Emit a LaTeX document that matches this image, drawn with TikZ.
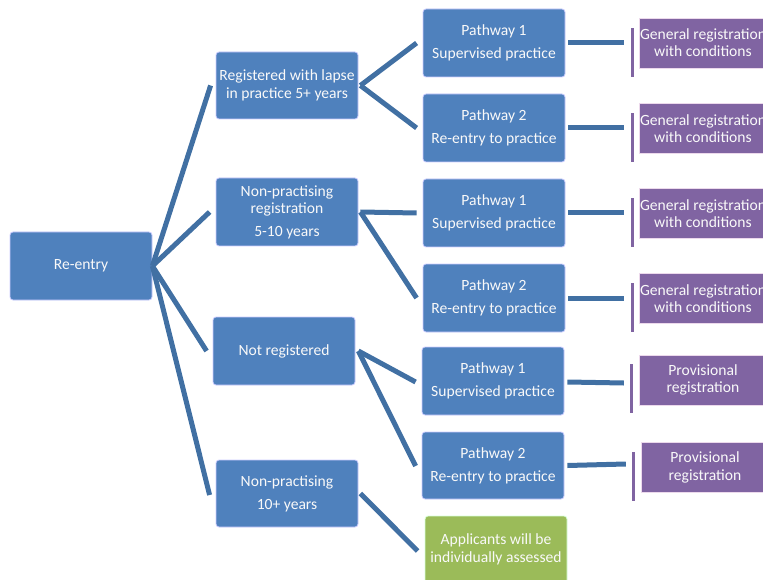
\documentclass[tikz,border=0pt]{standalone}
\usepackage{fontspec}
\setmainfont{Carlito}
\begin{document}
\begin{tikzpicture}[x=1pt,y=-1pt,
  bbox/.style={draw=white!80!blue, line width=0.8pt, fill=boxblue, rounded corners=3pt,
    minimum width=142pt, minimum height=68pt, inner sep=0pt, align=center,
    text=white!95!gray, font=\fontsize{15.6}{17.6}\selectfont},
  pbox/.style={draw=white!85!violet, line width=0.8pt, fill=boxpurple,
    minimum width=128pt, minimum height=50pt, inner sep=0pt, align=center,
    text=white!95!gray, font=\fontsize{15.6}{17.2}\selectfont},
  gbox/.style={bbox, fill=boxgreen, draw=white!85!green},
  bar/.style={fill=boxpurple, draw=none, minimum width=3pt, minimum height=49pt, inner sep=0pt},
  conn/.style={draw=lineblue, line width=5pt},
]
\definecolor{boxblue}{HTML}{4F81BD}
\definecolor{lineblue}{HTML}{4170A3}
\definecolor{boxpurple}{HTML}{8064A2}
\definecolor{boxgreen}{HTML}{9BBB59}
\useasboundingbox (0,0) rectangle (763,580);
\clip (0,0) rectangle (763,580);

% level 0
\node[bbox] (reentry) at (81,266) {Re-entry};
% level 1
\node[bbox, minimum height=67pt] (reg) at (287,85.5) {Registered with lapse\\in practice 5+ years};
\node[bbox] (npr) at (287,212) {Non-practising\\registration\\[5pt]5-10 years};
\node[bbox] (notreg) at (284,351) {Not registered};
\node[bbox, minimum height=67pt] (np10) at (287,493.5) {Non-practising\\[5.5pt]10+ years};
% level 2
\node[bbox] (p1a) at (494,43) {Pathway 1\\[5.5pt]Supervised practice};
\node[bbox] (p2a) at (494,128) {Pathway 2\\[5.5pt]Re-entry to practice};
\node[bbox] (p1b) at (494,213) {Pathway 1\\[5.5pt]Supervised practice};
\node[bbox] (p2b) at (494,298) {Pathway 2\\[5.5pt]Re-entry to practice};
\node[bbox] (p1c) at (493,381) {Pathway 1\\[5.5pt]Supervised practice};
\node[bbox, minimum height=67pt] (p2c) at (493,465.5) {Pathway 2\\[5.5pt]Re-entry to practice};
\node[gbox, minimum height=67pt] (assess) at (496,549.5) {Applicants will be\\individually assessed};
% level 3
\node[pbox] (g1) at (703,43) {General registration\\with conditions};
\node[pbox] (g2) at (703,128.5) {General registration\\with conditions};
\node[pbox] (g3) at (703,213.5) {General registration\\with conditions};
\node[pbox] (g4) at (703,298.5) {General registration\\with conditions};
\node[pbox] (prov1) at (703,380) {Provisional\\registration};
\node[pbox] (prov2) at (705,467.5) {Provisional\\registration};
% bars
\node[bar] (b1) at (632,52.5) {};
\node[bar] (b2) at (632,137.5) {};
\node[bar] (b3) at (632,222.5) {};
\node[bar] (b4) at (632,307.5) {};
\node[bar] (b5) at (631,388.5) {};
\node[bar] (b6) at (633,476.5) {};

% connectors level 0 -> 1
\draw[conn] (reentry.east) -- ([xshift=-5pt]reg.west);
\draw[conn] (reentry.east) -- ([xshift=-6pt]npr.west);
\draw[conn] (reentry.east) -- ([xshift=-6pt]notreg.west);
\draw[conn] (reentry.east) -- ([xshift=-6pt,yshift=-1.5pt]np10.west);
% level 1 -> 2
\draw[conn] ([xshift=2pt]reg.east) -- ([xshift=-6pt]p1a.west);
\draw[conn] ([xshift=2pt]reg.east) -- ([xshift=-6pt]p2a.west);
\draw[conn] ([xshift=2pt]npr.east) -- ([xshift=-6pt]p1b.west);
\draw[conn] ([xshift=2pt]npr.east) -- ([xshift=-6pt]p2b.west);
\draw[conn] ([xshift=3pt]notreg.east) -- ([xshift=-6pt,yshift=-1pt]p1c.west);
\draw[conn] ([xshift=3pt]notreg.east) -- ([xshift=-6pt,yshift=-0.5pt]p2c.west);
\draw[conn] ([xshift=2pt]np10.east) -- ([xshift=-7pt,yshift=-1.5pt]assess.west);
% level 2 -> 3
\draw[conn] ([xshift=3pt]p1a.east) -- ([xshift=-6.5pt]b1.west |- p1a.east);
\draw[conn] ([xshift=3pt]p2a.east) -- ([xshift=-6.5pt]b2.west |- p2a.east);
\draw[conn] ([xshift=3pt]p1b.east) -- ([xshift=-6.5pt]b3.west |- p1b.east);
\draw[conn] ([xshift=3pt]p2b.east) -- ([xshift=-6.5pt]b4.west |- p2b.east);
\draw[conn] ([xshift=3pt,yshift=-1pt]p1c.east) -- ([xshift=-5.5pt,yshift=-2pt]b5.west |- p1c.east);
\draw[conn] ([xshift=3pt]p2c.east) -- ([xshift=-5.5pt,yshift=1.5pt]b6.west |- p2c.east);
\end{tikzpicture}
\end{document}
